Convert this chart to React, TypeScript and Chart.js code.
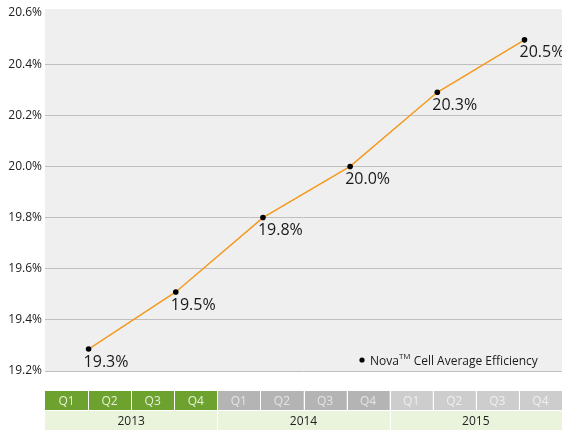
import React, { useEffect, useRef } from 'react';
import { Chart, registerables } from 'chart.js';

Chart.register(...registerables);

const quarterLabels = ['Q1', 'Q2', 'Q3', 'Q4', 'Q1', 'Q2', 'Q3', 'Q4', 'Q1', 'Q2', 'Q3', 'Q4'];
const yearLabels = ['2013', '2014', '2015'];
const pointPositions = [1, 3, 5, 7, 9, 11];
const efficiencyValues = [19.286, 19.509, 19.8, 20.0, 20.29, 20.495];
const efficiencyLabels = ['19.3%', '19.5%', '19.8%', '20.0%', '20.3%', '20.5%'];
const yMin = 19.2;
const yMax = 20.6;
const yStep = 0.2;
const legendMain = 'Nova';
const legendSup = 'TM';
const legendRest = ' Cell Average Efficiency';

const FONT = '"Open Sans", "Noto Sans", sans-serif';

const quarterFill = ['#6ea22f', '#b4b4b4', '#cdcdcd'];
const quarterText = ['#e6efd9', '#e4e4e4', '#efefef'];

const decorPlugin = {
  id: 'decor',
  beforeDraw(chart: any) {
    const { ctx, chartArea } = chart;
    ctx.save();
    ctx.fillStyle = '#efefef';
    ctx.fillRect(chartArea.left, chartArea.top - 4, chartArea.right - chartArea.left, chartArea.bottom - chartArea.top + 4);
    ctx.restore();
  },
  afterDatasetsDraw(chart: any) {
    const { ctx } = chart;
    const meta = chart.getDatasetMeta(0);
    ctx.save();
    ctx.font = `16px ${FONT}`;
    ctx.fillStyle = '#1a1a1a';
    ctx.textAlign = 'left';
    ctx.textBaseline = 'top';
    meta.data.forEach((pt: any, i: number) => {
      ctx.fillText(efficiencyLabels[i], pt.x - 5, pt.y + 5);
    });
    ctx.restore();
  },
  afterDraw(chart: any) {
    const { ctx, chartArea } = chart;
    const xq = chart.scales.xq;
    ctx.save();
    // legend
    const lx = chartArea.right - 200;
    const ly = chartArea.bottom - 6;
    ctx.fillStyle = '#000';
    ctx.beginPath();
    ctx.arc(lx, ly - 5, 2.6, 0, Math.PI * 2);
    ctx.fill();
    ctx.fillStyle = '#1a1a1a';
    ctx.textBaseline = 'alphabetic';
    ctx.textAlign = 'left';
    ctx.font = `12px ${FONT}`;
    let tx = lx + 8;
    ctx.fillText(legendMain, tx, ly);
    tx += ctx.measureText(legendMain).width;
    ctx.font = `8px ${FONT}`;
    ctx.fillText(legendSup, tx, ly - 6);
    tx += ctx.measureText(legendSup).width;
    ctx.font = `12px ${FONT}`;
    ctx.fillText(legendRest, tx, ly);

    // category table
    const row1Top = chartArea.bottom + 20;
    const rowH = 19;
    const row2Top = row1Top + rowH + 1;
    ctx.textAlign = 'center';
    ctx.textBaseline = 'middle';
    ctx.font = `12px ${FONT}`;
    quarterLabels.forEach((q, i) => {
      const x0 = xq.getPixelForValue(i);
      const x1 = xq.getPixelForValue(i + 1);
      const g = Math.floor(i / 4);
      ctx.fillStyle = quarterFill[g];
      ctx.fillRect(x0, row1Top, x1 - x0, rowH);
      ctx.fillStyle = quarterText[g];
      ctx.fillText(q, (x0 + x1) / 2, row1Top + rowH / 2 + 1);
    });
    yearLabels.forEach((y, i) => {
      const x0 = xq.getPixelForValue(i * 4);
      const x1 = xq.getPixelForValue(i * 4 + 4);
      ctx.fillStyle = '#eaf3dc';
      ctx.fillRect(x0, row2Top, x1 - x0, rowH);
      ctx.fillStyle = '#222';
      ctx.fillText(y, (x0 + x1) / 2, row2Top + rowH / 2 + 1);
    });
    ctx.strokeStyle = '#ffffff';
    ctx.lineWidth = 1;
    for (let i = 1; i < 12; i++) {
      const x = Math.round(xq.getPixelForValue(i)) + 0.5;
      ctx.beginPath();
      ctx.moveTo(x, row1Top);
      ctx.lineTo(x, row1Top + rowH);
      ctx.stroke();
    }
    for (let i = 1; i < 3; i++) {
      const x = Math.round(xq.getPixelForValue(i * 4)) + 0.5;
      ctx.beginPath();
      ctx.moveTo(x, row2Top);
      ctx.lineTo(x, row2Top + rowH);
      ctx.stroke();
    }
    ctx.restore();
  },
};

export default function App() {
  const canvasRef = useRef<HTMLCanvasElement>(null);

  useEffect(() => {
    document.body.style.margin = '0';
    const canvas = canvasRef.current;
    if (!canvas) return;
    const chart = new Chart(canvas, {
      type: 'line',
      data: {
        datasets: [
          {
            label: 'Nova Cell Average Efficiency',
            data: pointPositions.map((x, i) => ({ x, y: efficiencyValues[i] })),
            borderColor: '#f39a1e',
            borderWidth: 1.5,
            pointBackgroundColor: '#000',
            pointBorderColor: '#000',
            pointRadius: 2.8,
            pointBorderWidth: 0,
            tension: 0,
            xAxisID: 'x',
            yAxisID: 'y',
          },
        ],
      },
      options: {
        animation: false,
        responsive: false,
        maintainAspectRatio: false,
        layout: { autoPadding: false, padding: { top: 13, bottom: 59, left: 0, right: 0 } },
        plugins: {
          legend: { display: false },
          tooltip: { enabled: false },
        },
        scales: {
          x: { type: 'linear', min: 0, max: 11.86, display: false },
          xq: { type: 'linear', min: 0, max: 12, display: false },
          y: {
            type: 'linear',
            min: yMin,
            max: yMax,
            afterFit(scale: any) {
              scale.width = 45;
            },
            ticks: {
              stepSize: yStep,
              padding: 3,
              color: '#222',
              font: { family: FONT, size: 12 },
              callback: (v: any) => Number(v).toFixed(1) + '%',
            },
            border: { display: false },
            grid: {
              drawTicks: false,
              lineWidth: 1,
              color: (c: any) => (c.tick && Math.abs(c.tick.value - yMax) < 0.01 ? 'rgba(0,0,0,0)' : '#bfbfbf'),
            },
          },
        },
      } as any,
      plugins: [decorPlugin],
    });
    return () => chart.destroy();
  }, []);

  return (
    <div style={{ width: 562, height: 430 }}>
      <canvas ref={canvasRef} width={562} height={430} style={{ display: 'block' }} />
    </div>
  );
}
